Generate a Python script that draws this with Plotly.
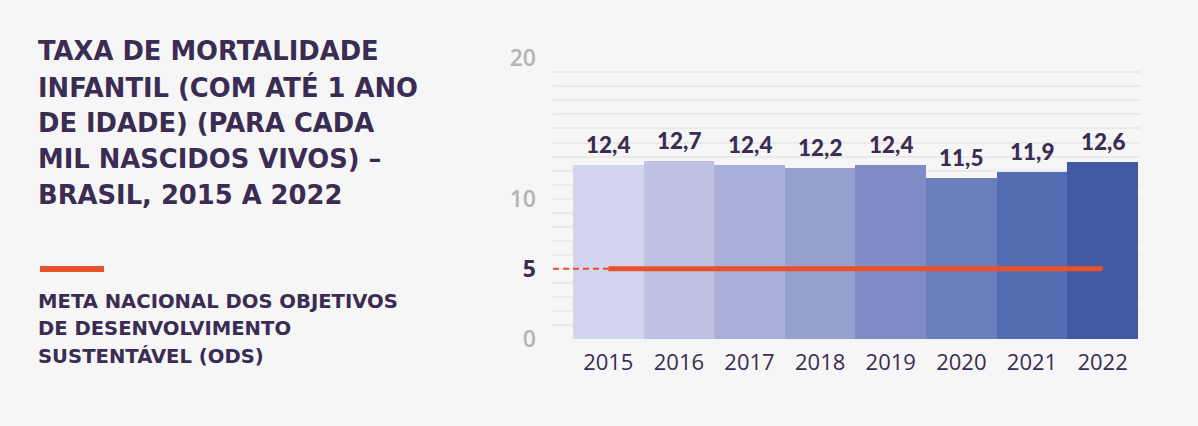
import plotly.graph_objects as go

# ── Data ───────────────────────────────────────────────────────────────────
YEARS  = ["2015", "2016", "2017", "2018", "2019", "2020", "2021", "2022"]
VALUES = [12.4, 12.7, 12.4, 12.2, 12.4, 11.5, 11.9, 12.6]
META   = 5
Y_TICKS = [0, 5, 10, 20]

TITLE_LINES = ["TAXA DE MORTALIDADE", "INFANTIL (COM ATÉ 1 ANO",
               "DE IDADE) (PARA CADA", "MIL NASCIDOS VIVOS) –",
               "BRASIL, 2015 A 2022"]
LEGEND_LINES = ["META NACIONAL DOS OBJETIVOS", "DE DESENVOLVIMENTO",
                "SUSTENTÁVEL (ODS)"]

# ── Style ──────────────────────────────────────────────────────────────────
BG     = "#F6F6F6"
INK    = "#3A2C52"
GRAY   = "#B4B4B4"
GRID   = "#EAEAEA"
RED    = "#E8512A"
BARS   = ["#D3D4EE", "#C0C2E3", "#AAAFDA", "#97A0CF",
          "#818CC7", "#6A7EBB", "#536DB2", "#4359A3"]
FONT   = "'Open Sans', sans-serif"
WIDE   = "'DejaVu Sans', sans-serif"

W, H = 1198, 426
L, R, T, B = 553, 58, 52, 87
pw, ph = W - L - R, H - T - B

x = list(range(len(YEARS)))
x_range = [-0.783, 7.53]

fig = go.Figure()
fig.add_trace(go.Bar(
    x=x, y=VALUES, width=1, marker=dict(color=BARS, line=dict(width=0)),
    hoverinfo="skip",
))
# dashed part, from the axis to the first bar
fig.add_trace(go.Scatter(
    x=[x_range[0], x[0]], y=[META, META], mode="lines",
    line=dict(color=RED, width=2, dash="6px,4px"), hoverinfo="skip",
))
fig.add_trace(go.Scatter(
    x=[x[0], x[-1]], y=[META, META], mode="lines",
    line=dict(color=RED, width=5), hoverinfo="skip",
))

tick_text = []
for t in Y_TICKS:
    if t == META:
        tick_text.append(f"<b><span style='color:{INK}'>{t}</span></b>")
    else:
        tick_text.append(str(t))

ann = []
# value labels above the bars
for xi, v in zip(x, VALUES):
    ann.append(dict(text=f"{v:.1f}".replace(".", ","), x=xi, y=v, showarrow=False,
                    yanchor="bottom", yshift=5,
                    font=dict(family="Lato, sans-serif", size=22.5, color=INK, weight=900)))

# title and legend text, one annotation per line to control spacing
side = []
for i, line in enumerate(TITLE_LINES):
    side.append(dict(text=line, x=36, y=H - 51 - 36 * i,
                     font=dict(family=WIDE, size=25.8, color=INK, weight="bold")))
for i, line in enumerate(LEGEND_LINES):
    side.append(dict(text=line, x=36, y=H - 301 - 27.5 * i,
                     font=dict(family=WIDE, size=19.6, color=INK, weight="bold")))
for a in side:
    a.update(xref="paper", yref="paper", showarrow=False,
             xanchor="left", yanchor="middle",
             x=(a["x"] - L) / pw, y=(a["y"] - B) / ph)
    ann.append(a)

fig.update_layout(
    width=W, height=H, paper_bgcolor=BG, plot_bgcolor=BG,
    margin=dict(l=L, r=R, t=T, b=B), showlegend=False,
    bargap=0, annotations=ann,
    shapes=[dict(type="line", xref="paper", yref="paper",
                 x0=(40 - L) / pw, x1=(104 - L) / pw,
                 y0=(H - 269 - B) / ph, y1=(H - 269 - B) / ph,
                 line=dict(color=RED, width=6))],
    xaxis=dict(range=x_range, tickvals=x, ticktext=YEARS, showgrid=False,
               zeroline=False, showline=False, ticks="",
               tickfont=dict(family=FONT, size=22, color=INK), ticklabelstandoff=8),
    yaxis=dict(range=[0, 20.45], tickvals=Y_TICKS, ticktext=tick_text,
               showgrid=False, zeroline=False, showline=False, ticks="",
               tickfont=dict(family=FONT, size=23, color=GRAY, weight=600),
               ticklabelstandoff=16,
               minor=dict(tickvals=list(range(0, 20)), showgrid=True,
                          gridcolor=GRID, gridwidth=2, ticks="")),
)

fig.write_html("out.html", config={"displayModeBar": False},
               post_script="document.body.style.margin='0';")
